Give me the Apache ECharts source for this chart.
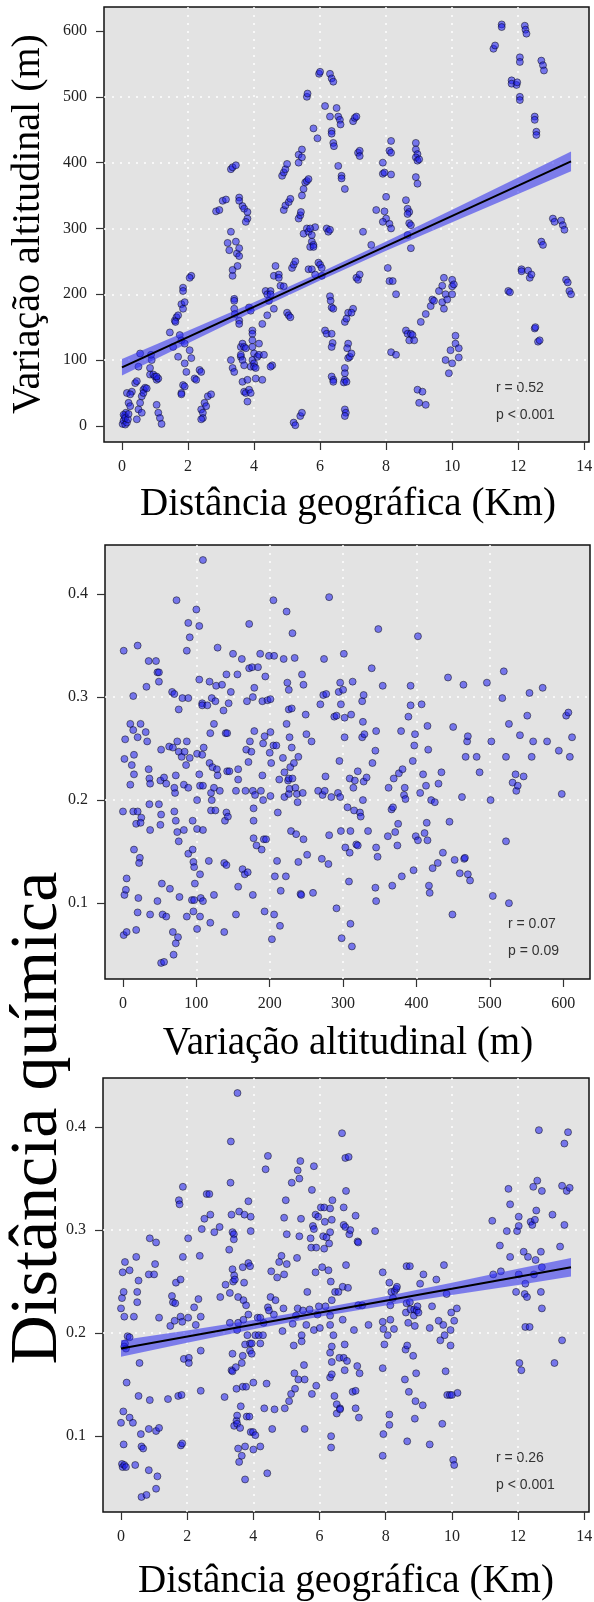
<!DOCTYPE html>
<html>
<head>
<meta charset="utf-8">
<script src="https://cdn.jsdelivr.net/npm/echarts@6/dist/echarts.min.js"></script>
<style>
  html, body { margin: 0; padding: 0; background: #fff; }
  #chart { width: 594px; height: 1602px; }
</style>
</head>
<body>
<div id="chart"></div>
<script>
// tick labels
const kmTicks = [0, 2, 4, 6, 8, 10, 12, 14];
const altTicks = [0, 100, 200, 300, 400, 500, 600];
const chemTicks = [0.1, 0.2, 0.3, 0.4];

// panel 1: geographic distance (km) vs altitude difference (m)
const geoAlt = [
  [0.02,3],[0.05,8],[0.08,15],[0.1,2],[0.12,20],[0.15,5],[0.05,17],[0.1,12],[0.18,10],[0.2,35],[0.15,50],[0.3,52],
  [0.25,48],[0.2,18],[0.25,30],[0.4,65],[0.45,68],[0.5,90],[0.55,110],[0.5,25],[0.55,35],[0.6,45],[0.6,20],[0.65,55],
  [0.7,58],[0.65,50],[0.45,10],[0.75,57],[0.85,78],[0.9,100],[0.88,108],[0.95,78],[1.0,75],[1.05,70],[1.1,72],[0.85,88],
  [1.05,32],[1.1,20],[1.15,12],[1.2,3],[1.05,75],[1.45,142],[1.55,120],[1.6,160],[1.65,165],[1.7,168],[1.7,105],[1.75,138],
  [1.8,130],[1.8,185],[1.85,210],[1.85,205],[1.9,188],[1.85,178],[1.9,125],[1.9,95],[1.95,82],[1.85,62],[1.9,60],[1.8,50],
  [1.8,48],[2.05,115],[2.1,103],[2.1,228],[2.05,225],[1.62,158],[2.2,72],[2.25,70],[2.35,85],[2.4,82],[2.4,25],[2.45,20],
  [2.45,12],[2.5,35],[2.55,30],[2.6,45],[2.7,48],[2.4,10],[2.85,326],[2.95,328],[3.05,342],[3.15,344],[3.2,278],[3.3,295],
  [3.25,267],[3.35,228],[3.35,237],[3.3,390],[3.35,393],[3.45,396],[3.3,100],[3.35,88],[3.4,82],[3.4,193],[3.4,190],[3.4,178],
  [3.42,170],[3.45,280],[3.48,262],[3.5,243],[3.55,270],[3.55,258],[3.55,347],[3.55,342],[3.65,334],[3.7,330],[3.8,325],[3.8,315],
  [3.75,310],[3.55,160],[3.55,155],[3.6,120],[3.6,105],[3.6,108],[3.65,100],[3.7,92],[3.65,67],[3.7,52],[3.75,50],[3.8,37],
  [3.85,55],[3.9,50],[3.65,125],[3.7,120],[3.75,118],[3.8,70],[3.85,180],[3.9,175],[3.95,145],[3.95,140],[3.95,130],[3.95,120],
  [4.0,110],[3.95,100],[3.9,90],[4.0,95],[4.05,72],[4.1,105],[4.15,125],[4.15,108],[4.25,70],[4.25,155],[4.3,108],[4.0,90],
  [4.05,88],[4.35,205],[4.4,200],[4.45,190],[4.5,205],[4.5,200],[4.55,92],[4.5,90],[4.6,178],[4.6,228],[4.65,243],[4.75,230],
  [4.75,225],[4.8,213],[4.9,212],[4.4,168],[4.85,380],[4.9,385],[4.95,390],[5.0,398],[4.9,328],[4.95,335],[5.05,340],[5.1,345],
  [5.0,172],[5.05,168],[5.1,165],[5.15,240],[5.2,245],[5.25,250],[5.2,5],[5.25,1],[5.35,400],[5.35,412],[5.45,420],[5.45,408],
  [5.35,315],[5.4,320],[5.42,325],[5.45,350],[5.5,360],[5.55,370],[5.6,372],[5.65,375],[5.4,15],[5.45,20],[5.5,292],[5.6,300],
  [5.65,295],[5.7,272],[5.75,280],[5.75,290],[5.8,275],[5.8,272],[5.85,302],[5.7,300],[5.6,500],[5.62,505],[5.8,452],[5.92,437],
  [5.65,238],[5.75,238],[5.85,230],[5.95,248],[6.0,245],[6.05,240],[6.05,228],[5.97,535],[6.0,538],[6.15,486],[6.3,470],[6.35,448],
  [6.35,444],[6.4,430],[6.42,425],[6.3,535],[6.35,528],[6.4,523],[6.2,300],[6.25,295],[6.3,298],[6.3,197],[6.32,190],[6.35,180],
  [6.4,178],[6.15,145],[6.2,140],[6.35,140],[6.38,126],[6.35,120],[6.35,75],[6.4,70],[6.4,67],[6.5,483],[6.55,470],[6.6,465],
  [6.62,458],[6.55,395],[6.65,380],[6.65,376],[6.75,360],[6.75,158],[6.8,163],[6.85,172],[6.85,125],[6.82,118],[6.85,103],[6.9,105],
  [6.95,110],[6.75,88],[6.75,80],[6.75,70],[6.72,66],[6.8,67],[6.75,25],[6.78,20],[6.75,15],[7.0,463],[7.05,468],[7.1,470],
  [7.15,415],[7.2,418],[7.2,410],[7.1,225],[7.15,222],[7.2,230],[7.0,178],[6.95,172],[7.3,295],[7.55,275],[7.7,328],[7.9,400],
  [7.9,383],[7.95,385],[8.0,348],[7.95,326],[8.0,315],[7.9,310],[8.1,307],[8.15,300],[8.05,240],[8.1,220],[8.2,220],[8.3,200],
  [8.15,112],[8.3,108],[8.1,418],[8.15,415],[8.15,433],[8.15,382],[8.6,343],[8.65,330],[8.7,325],[8.65,322],[8.7,308],[8.75,305],
  [8.65,290],[8.75,270],[8.6,145],[8.65,140],[8.7,130],[8.75,140],[8.8,138],[8.85,130],[8.9,430],[8.9,420],[8.95,413],[8.9,408],
  [8.95,403],[9.0,405],[8.9,378],[8.95,368],[8.95,55],[9.1,52],[9.0,35],[9.2,32],[9.05,158],[9.2,170],[9.35,182],[9.4,192],
  [9.45,190],[9.6,205],[9.7,188],[9.75,178],[9.7,213],[9.75,225],[9.8,200],[9.85,192],[9.8,100],[9.9,80],[9.95,115],[10.0,95],
  [10.0,212],[10.0,222],[10.05,215],[10.0,200],[10.1,137],[10.1,125],[10.2,118],[10.2,104],[11.25,573],[11.3,578],[11.5,610],[11.5,606],
  [11.7,205],[11.75,203],[11.8,525],[11.8,520],[11.95,518],[11.97,522],[12.05,560],[12.05,553],[12.05,500],[12.05,495],[12.1,238],[12.1,235],
  [12.2,608],[12.22,602],[12.25,596],[12.3,236],[12.35,225],[12.4,230],[12.5,148],[12.52,150],[12.5,470],[12.5,465],[12.55,447],[12.55,442],
  [12.6,128],[12.65,130],[12.7,555],[12.75,548],[12.78,540],[12.7,280],[12.75,275],[13.05,315],[13.1,310],[13.3,312],[13.35,305],[13.4,298],
  [13.45,222],[13.5,218],[13.55,205],[13.6,200]
];

// panel 2: altitude difference (m) vs chemical distance
const altChem = [
  [1,0.345],[2,0.24],[3,0.259],[0,0.189],[2,0.108],[4,0.113],[5,0.124],[1,0.069],[5,0.072],[10,0.274],[12,0.234],[10,0.215],
  [14,0.268],[15,0.244],[15,0.225],[14,0.301],[14,0.189],[15,0.152],[20,0.35],[20,0.261],[20,0.189],[18,0.177],[23,0.144],[22,0.139],
  [21,0.105],[20,0.091],[18,0.074],[24,0.274],[25,0.183],[24,0.178],[31,0.266],[33,0.257],[32,0.31],[35,0.335],[35,0.23],[36,0.221],
  [37,0.216],[36,0.196],[37,0.171],[37,0.089],[45,0.335],[47,0.324],[49,0.324],[49,0.315],[49,0.196],[47,0.102],[51,0.219],[52,0.249],
  [52,0.186],[51,0.176],[53,0.119],[54,0.089],[52,0.042],[56,0.043],[59,0.087],[56,0.222],[59,0.216],[63,0.252],[64,0.114],[67,0.305],
  [70,0.303],[68,0.251],[68,0.072],[69,0.05],[71,0.207],[70,0.212],[70,0.189],[72,0.18],[72,0.061],[72,0.224],[74,0.257],[74,0.169],
  [73,0.394],[75,0.067],[76,0.247],[76,0.288],[76,0.16],[77,0.106],[80,0.242],[81,0.299],[83,0.215],[83,0.171],[84,0.247],[86,0.234],
  [87,0.087],[87,0.257],[89,0.212],[87,0.345],[89,0.299],[89,0.372],[89,0.148],[91,0.358],[91,0.241],[94,0.103],[95,0.18],[95,0.152],
  [96,0.14],[97,0.135],[96,0.092],[97,0.103],[98,0.119],[100,0.385],[101,0.245],[101,0.2],[101,0.172],[101,0.075],[104,0.369],[104,0.317],
  [104,0.225],[105,0.214],[105,0.128],[106,0.105],[105,0.087],[108,0.294],[108,0.292],[108,0.244],[109,0.214],[110,0.251],[109,0.171],[109,0.102],
  [109,0.433],[115,0.292],[117,0.141],[118,0.315],[118,0.236],[119,0.265],[119,0.081],[120,0.207],[120,0.19],[121,0.2],[121,0.299],[122,0.232],
  [124,0.108],[124,0.212],[124,0.274],[126,0.296],[126,0.19],[127,0.311],[128,0.23],[129,0.224],[129,0.348],[132,0.209],[135,0.312],[137,0.287],
  [138,0.072],[138,0.139],[139,0.18],[140,0.265],[141,0.188],[141,0.322],[141,0.137],[142,0.265],[142,0.228],[143,0.184],[144,0.294],[145,0.228],
  [147,0.305],[150,0.342],[154,0.089],[154,0.209],[156,0.322],[157,0.23],[157,0.22],[157,0.116],[162,0.337],[163,0.133],[166,0.128],[167,0.209],
  [169,0.296],[168,0.249],[170,0.13],[171,0.237],[172,0.328],[172,0.371],[173,0.257],[175,0.247],[176,0.329],[177,0.209],[177,0.3],[177,0.108],
  [178,0.18],[178,0.192],[178,0.163],[179,0.267],[179,0.309],[180,0.205],[182,0.156],[184,0.329],[187,0.342],[188,0.209],[189,0.152],[190,0.224],
  [190,0.296],[191,0.255],[191,0.2],[192,0.162],[193,0.262],[193,0.092],[194,0.32],[195,0.162],[197,0.297],[199,0.34],[200,0.246],[201,0.204],
  [201,0.266],[201,0.298],[202,0.236],[203,0.065],[205,0.253],[206,0.089],[206,0.34],[205,0.394],[207,0.126],[209,0.253],[210,0.141],[211,0.188],
  [213,0.22],[214,0.078],[215,0.112],[218,0.241],[219,0.337],[220,0.227],[220,0.203],[222,0.126],[223,0.383],[223,0.274],[224,0.314],[225,0.219],
  [226,0.221],[226,0.307],[226,0.288],[226,0.206],[227,0.261],[227,0.211],[228,0.232],[229,0.17],[230,0.289],[230,0.251],[231,0.362],[231,0.221],
  [233,0.236],[234,0.338],[235,0.212],[236,0.167],[237,0.206],[238,0.198],[239,0.242],[239,0.14],[242,0.109],[243,0.108],[244,0.322],[245,0.207],
  [246,0.162],[246,0.312],[249,0.283],[250,0.264],[251,0.147],[257,0.257],[259,0.11],[266,0.209],[269,0.293],[271,0.143],[272,0.205],[274,0.337],
  [273,0.302],[275,0.209],[276,0.223],[277,0.303],[280,0.138],[281,0.166],[284,0.203],[281,0.397],[288,0.281],[291,0.282],[291,0.095],[293,0.207],
  [294,0.305],[295,0.238],[296,0.314],[296,0.203],[297,0.293],[297,0.17],[298,0.066],[300,0.307],[301,0.342],[302,0.28],[302,0.261],[303,0.154],
  [306,0.193],[308,0.121],[309,0.149],[309,0.221],[310,0.17],[310,0.08],[312,0.058],[311,0.283],[313,0.315],[314,0.212],[315,0.19],[316,0.219],
  [318,0.157],[320,0.228],[320,0.156],[323,0.188],[324,0.184],[326,0.261],[326,0.296],[327,0.276],[327,0.2],[328,0.302],[328,0.218],[329,0.264],
  [332,0.222],[334,0.17],[339,0.328],[340,0.236],[344,0.248],[344,0.115],[345,0.102],[345,0.267],[345,0.154],[347,0.145],[348,0.366],[354,0.311],
  [362,0.212],[361,0.165],[366,0.191],[367,0.117],[368,0.193],[369,0.221],[371,0.169],[374,0.156],[375,0.177],[376,0.226],[379,0.267],[380,0.126],
  [381,0.23],[383,0.205],[384,0.212],[385,0.201],[389,0.281],[392,0.292],[392,0.311],[395,0.238],[396,0.132],[397,0.253],[398,0.264],[399,0.165],
  [402,0.359],[402,0.161],[405,0.207],[407,0.293],[409,0.225],[411,0.168],[413,0.214],[414,0.178],[415,0.161],[415,0.272],[416,0.249],[417,0.117],
  [418,0.11],[420,0.2],[422,0.134],[425,0.198],[429,0.139],[430,0.216],[434,0.227],[436,0.149],[443,0.319],[445,0.179],[449,0.089],[450,0.271],
  [452,0.142],[459,0.129],[462,0.203],[464,0.312],[465,0.143],[466,0.144],[467,0.242],[469,0.257],[470,0.262],[470,0.128],[473,0.122],[482,0.242],
  [486,0.227],[496,0.314],[501,0.2],[502,0.257],[504,0.107],[517,0.299],[519,0.325],[522,0.242],[522,0.16],[526,0.1],[526,0.274],[531,0.217],
  [535,0.225],[536,0.209],[538,0.214],[541,0.263],[546,0.223],[551,0.282],[554,0.304],[557,0.242],[559,0.257],[572,0.309],[578,0.257],[594,0.248],
  [598,0.206],[604,0.282],[607,0.285],[609,0.242],[612,0.261]
];

// panel 3: geographic distance (km) vs chemical distance
const geoChem = [
  [0,0.224],[0.03,0.234],[0.05,0.259],[0.08,0.24],[0.1,0.216],[0.12,0.269],[0.12,0.19],[0.1,0.187],[0.15,0.185],[0.2,0.197],[0.26,0.196],[0.26,0.261],
  [0,0.113],[0.07,0.124],[0.08,0.092],[0.03,0.073],[0.05,0.07],[0.1,0.072],[0.15,0.07],[0.17,0.152],[0.26,0.118],[0.36,0.113],[0.39,0.216],[0.43,0.072],
  [0.46,0.274],[0.49,0.24],[0.49,0.23],[0.53,0.251],[0.56,0.171],[0.53,0.139],[0.6,0.102],[0.62,0.09],[0.67,0.088],[0.62,0.041],[0.77,0.043],[0.84,0.067],
  [0.84,0.107],[0.84,0.257],[0.87,0.292],[0.87,0.135],[1.0,0.257],[1.03,0.267],[1.06,0.288],[1.06,0.105],[1.06,0.049],[1.1,0.061],[1.15,0.108],[1.15,0.215],
  [1.42,0.136],[1.49,0.207],[1.54,0.236],[1.57,0.23],[1.64,0.229],[1.62,0.212],[1.66,0.249],[1.73,0.139],[1.75,0.329],[1.77,0.325],[1.8,0.252],[1.81,0.091],
  [1.83,0.14],[1.8,0.216],[1.85,0.211],[1.85,0.093],[1.87,0.342],[1.87,0.274],[1.9,0.175],[2.03,0.215],[2.05,0.176],[2.05,0.171],[2.03,0.292],[2.21,0.225],
  [2.26,0.208],[2.34,0.233],[2.38,0.275],[2.41,0.216],[2.41,0.144],[2.41,0.183],[2.44,0.301],[2.52,0.311],[2.59,0.335],[2.67,0.335],[2.7,0.315],[2.82,0.298],
  [2.98,0.303],[3.0,0.235],[3.13,0.138],[3.16,0.247],[3.27,0.281],[3.29,0.21],[3.29,0.239],[3.31,0.346],[3.32,0.386],[3.34,0.315],[3.34,0.164],[3.37,0.163],
  [3.37,0.298],[3.37,0.262],[3.37,0.18],[3.39,0.25],[3.41,0.296],[3.41,0.291],[3.42,0.256],[3.44,0.252],[3.42,0.11],[3.47,0.167],[3.49,0.115],[3.51,0.112],
  [3.51,0.203],[3.49,0.146],[3.51,0.12],[3.54,0.088],[3.54,0.21],[3.52,0.433],[3.57,0.075],[3.57,0.318],[3.54,0.235],[3.6,0.108],[3.62,0.129],[3.65,0.081],
  [3.65,0.171],[3.68,0.264],[3.68,0.178],[3.68,0.148],[3.7,0.232],[3.7,0.213],[3.72,0.249],[3.73,0.315],[3.75,0.189],[3.75,0.09],[3.75,0.058],[3.78,0.227],
  [3.78,0.148],[3.8,0.119],[3.82,0.198],[3.85,0.328],[3.85,0.218],[3.85,0.268],[3.88,0.119],[3.9,0.265],[3.9,0.19],[3.9,0.183],[3.92,0.299],[3.92,0.313],
  [3.92,0.104],[3.95,0.19],[3.95,0.18],[3.99,0.104],[4.0,0.152],[4.0,0.087],[4.06,0.198],[4.06,0.101],[4.13,0.215],[4.16,0.198],[4.21,0.215],[4.21,0.19],
  [4.21,0.09],[4.29,0.198],[4.31,0.21],[4.33,0.127],[4.37,0.359],[4.4,0.151],[4.42,0.064],[4.44,0.372],[4.44,0.225],[4.47,0.222],[4.52,0.235],[4.54,0.26],
  [4.57,0.107],[4.62,0.218],[4.64,0.126],[4.67,0.232],[4.72,0.254],[4.78,0.269],[4.85,0.275],[4.88,0.202],[4.91,0.224],[4.93,0.312],[4.93,0.257],[4.95,0.127],
  [4.98,0.329],[5.01,0.296],[5.01,0.267],[5.08,0.134],[5.14,0.141],[5.16,0.346],[5.19,0.209],[5.22,0.188],[5.24,0.161],[5.26,0.146],[5.29,0.217],[5.32,0.273],
  [5.34,0.358],[5.34,0.224],[5.36,0.155],[5.39,0.35],[5.39,0.294],[5.42,0.367],[5.44,0.311],[5.46,0.198],[5.46,0.192],[5.5,0.222],[5.53,0.169],[5.55,0.155],
  [5.55,0.107],[5.6,0.208],[5.63,0.24],[5.7,0.223],[5.73,0.292],[5.75,0.283],[5.77,0.141],[5.77,0.339],[5.8,0.304],[5.83,0.301],[5.83,0.203],[5.83,0.362],
  [5.88,0.315],[5.88,0.259],[5.9,0.283],[5.9,0.149],[5.94,0.218],[5.96,0.313],[5.98,0.226],[6.01,0.205],[6.04,0.322],[6.08,0.264],[6.11,0.294],[6.14,0.282],
  [6.14,0.322],[6.16,0.308],[6.18,0.226],[6.21,0.293],[6.27,0.261],[6.29,0.287],[6.32,0.321],[6.32,0.298],[6.32,0.208],[6.32,0.217],[6.32,0.181],[6.32,0.157],
  [6.34,0.25],[6.35,0.1],[6.35,0.089],[6.37,0.187],[6.37,0.172],[6.37,0.16],[6.37,0.232],[6.39,0.329],[6.37,0.31],[6.42,0.198],[6.45,0.139],[6.47,0.24],
  [6.52,0.131],[6.52,0.122],[6.57,0.24],[6.6,0.176],[6.62,0.127],[6.62,0.126],[6.68,0.394],[6.7,0.213],[6.7,0.245],[6.73,0.305],[6.73,0.322],[6.73,0.176],
  [6.76,0.189],[6.76,0.164],[6.78,0.37],[6.78,0.303],[6.8,0.266],[6.8,0.338],[6.83,0.173],[6.86,0.244],[6.88,0.371],[6.9,0.296],[6.93,0.3],[7.0,0.143],
  [7.04,0.203],[7.09,0.144],[7.09,0.314],[7.09,0.127],[7.14,0.168],[7.15,0.289],[7.17,0.288],[7.17,0.227],[7.19,0.118],[7.21,0.161],[7.29,0.227],[7.48,0.208],
  [7.68,0.299],[7.91,0.259],[7.91,0.211],[7.91,0.166],[7.91,0.081],[7.93,0.102],[7.96,0.189],[7.93,0.204],[8.06,0.198],[8.11,0.121],[8.11,0.111],[8.11,0.249],
  [8.14,0.227],[8.14,0.213],[8.17,0.24],[8.22,0.234],[8.25,0.204],[8.27,0.241],[8.32,0.243],[8.34,0.245],[8.58,0.155],[8.6,0.184],[8.61,0.22],[8.63,0.265],
  [8.63,0.229],[8.65,0.188],[8.65,0.095],[8.68,0.21],[8.7,0.143],[8.73,0.265],[8.73,0.23],[8.75,0.223],[8.83,0.178],[8.85,0.217],[8.86,0.223],[8.88,0.207],
  [8.88,0.117],[8.9,0.134],[8.92,0.161],[8.94,0.222],[8.96,0.226],[8.99,0.22],[9.04,0.248],[9.12,0.13],[9.14,0.257],[9.33,0.205],[9.33,0.092],[9.4,0.226],
  [9.53,0.252],[9.6,0.212],[9.65,0.193],[9.71,0.112],[9.74,0.208],[9.76,0.266],[9.78,0.198],[9.81,0.163],[9.84,0.238],[9.86,0.14],[9.94,0.14],[9.96,0.188],
  [9.96,0.203],[9.98,0.22],[10.0,0.14],[10.04,0.077],[10.07,0.072],[10.07,0.212],[10.15,0.224],[10.17,0.142],[11.22,0.309],[11.25,0.257],[11.45,0.285],[11.48,0.26],
  [11.66,0.299],[11.71,0.34],[11.76,0.325],[11.76,0.274],[11.94,0.24],[11.97,0.299],[12.02,0.304],[12.02,0.313],[12.02,0.257],[12.04,0.171],[12.1,0.164],[12.17,0.279],
  [12.2,0.238],[12.22,0.248],[12.22,0.206],[12.27,0.235],[12.3,0.274],[12.35,0.206],[12.38,0.308],[12.43,0.305],[12.46,0.342],[12.48,0.257],[12.51,0.31],[12.53,0.271],
  [12.55,0.319],[12.58,0.348],[12.63,0.397],[12.69,0.279],[12.69,0.24],[12.72,0.338],[12.72,0.264],[12.72,0.224],[13.04,0.315],[13.1,0.171],[13.27,0.284],[13.33,0.193],
  [13.33,0.343],[13.4,0.384],[13.4,0.305],[13.47,0.338],[13.51,0.395],[13.56,0.341]
];

// fitted lines and confidence bands
const fitGeoAlt = [[0, 89], [13.6, 402]];
const bandX = [0, 2, 4, 6, 8, 10, 12, 13.6];
const bandLoGeoAlt = [76.5, 125.6, 174, 221, 266, 309.6, 352.5, 387];
const bandHiGeoAlt = [101.5, 144.4, 188, 233, 280, 328.4, 377.5, 417];
const fitGeoChem = [[0, 0.185], [13.6, 0.264]];
const bandLoGeoChem = [0.177, 0.1906, 0.2037, 0.2158, 0.2269, 0.237, 0.2468, 0.255];
const bandHiGeoChem = [0.193, 0.2026, 0.2127, 0.2238, 0.2359, 0.249, 0.2624, 0.273];

const statLines = [['r = 0.52', 'p < 0.001'], ['r = 0.07', 'p = 0.09'], ['r = 0.26', 'p < 0.001']];

const SERIF = '"Liberation Serif", "Times New Roman", serif';
const SANS = '"Liberation Sans", Arial, sans-serif';

// axis ranges (R style, data range + 4%)
const kmRange = [-0.544, 14.144];
const altRange = [-24.48, 636.48];
const chemRange = [0.0264, 0.4476];

function axis(gi, range, ticks, fmt) {
  return {
    type: 'value', gridIndex: gi,
    min: range[0], max: range[1], interval: (range[1] - range[0]) / 6,
    axisLine: { show: false, onZero: false },
    axisTick: { show: true, length: 8, customValues: ticks, lineStyle: { color: '#333', width: 1.2 } },
    axisLabel: {
      customValues: ticks, margin: 17, color: '#222',
      fontFamily: 'Liberation Serif', fontSize: 16,
      formatter: fmt || (v => String(v))
    },
    splitLine: {
      show: true, showMinLine: false, showMaxLine: false,
      lineStyle: { color: '#ffffff', type: [2, 6], width: 1.5 }
    }
  };
}

const grids = [
  { left: 104, top: 7, width: 485, height: 435 },
  { left: 105, top: 545, width: 485, height: 434 },
  { left: 103, top: 1078, width: 486, height: 434 }
].map(g => Object.assign(g, {
  show: true, backgroundColor: '#e3e3e3', borderColor: '#111', borderWidth: 1.5,
  containLabel: false, outerBoundsMode: 'none'
}));

const chemFmt = v => v.toFixed(1);

function scatter(gi, data) {
  return {
    type: 'scatter', xAxisIndex: gi, yAxisIndex: gi, data: data, z: 2,
    symbolSize: 7, silent: true,
    itemStyle: { color: 'rgba(30,30,240,0.7)', borderColor: 'rgba(0,0,0,0.75)', borderWidth: 0.8 }
  };
}

function band(gi, xs, lo, hi) {
  return {
    type: 'custom', xAxisIndex: gi, yAxisIndex: gi, z: 3, silent: true,
    data: [[xs[0], lo[0]]],
    renderItem: (params, api) => {
      const up = xs.map((x, i) => api.coord([x, hi[i]]));
      const dn = xs.map((x, i) => api.coord([x, lo[i]])).reverse();
      return { type: 'polygon', shape: { points: up.concat(dn) }, style: { fill: 'rgba(40,40,240,0.55)' } };
    }
  };
}

function fitLine(gi, data) {
  return {
    type: 'line', xAxisIndex: gi, yAxisIndex: gi, data: data, z: 4, silent: true,
    symbol: 'none', lineStyle: { color: '#000', width: 2 }
  };
}

const statPos = [[496, 388, 415], [508, 924, 951], [496, 1458, 1485]];
const statText = [];
statLines.forEach((s, i) => {
  s.forEach((t, j) => {
    statText.push({
      type: 'text', x: statPos[i][0], y: statPos[i][1 + j], silent: true,
      style: { text: t, font: '14px ' + SANS, fill: '#333', align: 'left', verticalAlign: 'middle',
               textAlign: 'left', textVerticalAlign: 'middle' }
    });
  });
});

function title(t, x, y, size, rot) {
  return {
    type: 'text', x: x, y: y, rotation: rot || 0, silent: true,
    style: { text: t, font: size + 'px ' + SERIF, fill: '#000', align: 'center', verticalAlign: 'middle',
             textAlign: 'center', textVerticalAlign: 'middle' }
  };
}

const option = {
  animation: false,
  backgroundColor: '#ffffff',
  textStyle: { fontFamily: SERIF, fontSize: 16 },
  grid: grids,
  xAxis: [axis(0, kmRange, kmTicks), axis(1, altRange, altTicks), axis(2, kmRange, kmTicks)],
  yAxis: [axis(0, altRange, altTicks), axis(1, chemRange, chemTicks, chemFmt), axis(2, chemRange, chemTicks, chemFmt)],
  series: [
    scatter(0, geoAlt), band(0, bandX, bandLoGeoAlt, bandHiGeoAlt), fitLine(0, fitGeoAlt),
    scatter(1, altChem),
    scatter(2, geoChem), band(2, bandX, bandLoGeoChem, bandHiGeoChem), fitLine(2, fitGeoChem)
  ],
  graphic: statText.concat([
    title('Distância geográfica (Km)', 348, 505, 39),
    title('Variação altitudinal (m)', 28, 224, 40, Math.PI / 2),
    title('Variação altitudinal (m)', 348, 1044, 39),
    title('Distância química', 38, 1118, 68, Math.PI / 2),
    title('Distância geográfica (Km)', 346, 1582, 39)
  ])
};

const chart = echarts.init(document.getElementById('chart'), null, { renderer: 'canvas' });
chart.setOption(option);
</script>
</body>
</html>
